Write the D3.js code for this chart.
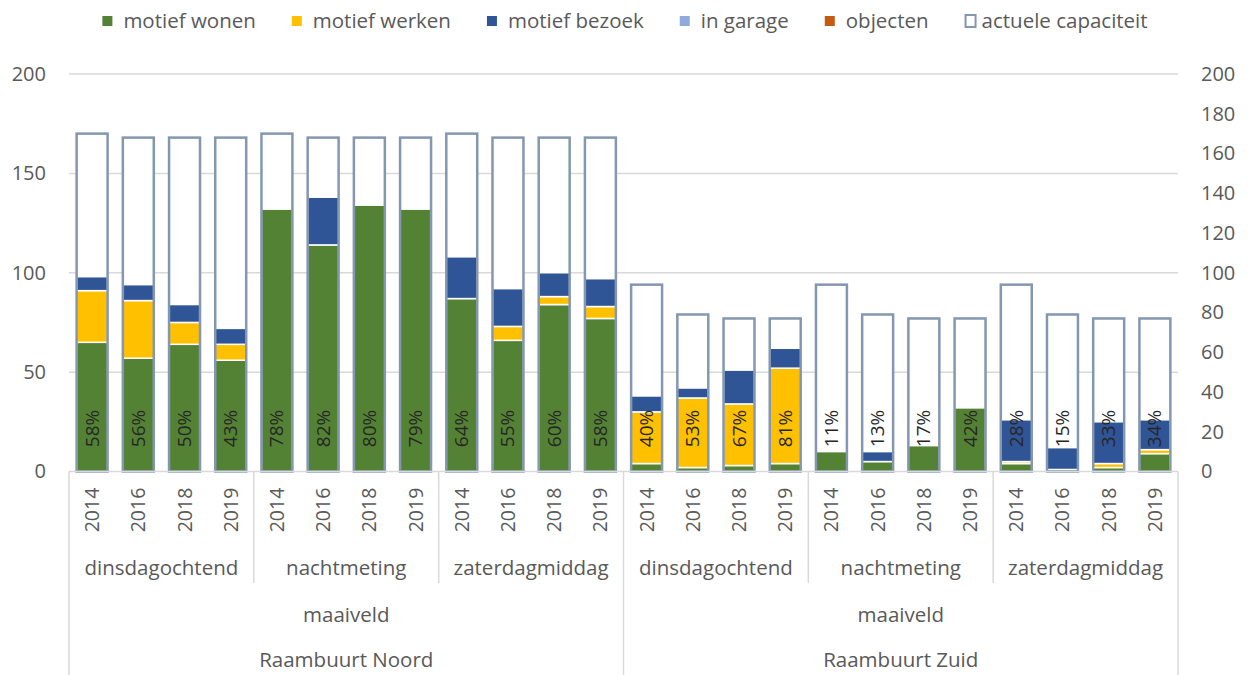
<!DOCTYPE html>
<html>
<head>
<meta charset="utf-8">
<script src="https://cdn.jsdelivr.net/npm/d3@7"></script>
<style>
  body { margin: 0; background: #fff; }
  svg { display: block; font-family: "Open Sans", Lato, sans-serif; }
</style>
</head>
<body>
<script>
// categories (three levels + years)
var areas = ["Raambuurt Noord", "Raambuurt Zuid"];
var niveau = "maaiveld";
var momenten = ["dinsdagochtend", "nachtmeting", "zaterdagmiddag"];
var jaren = ["2014", "2016", "2018", "2019"];

// series, one value per bar (area > moment > year)
var wonen      = [65, 57, 64, 56, 132, 114, 134, 132, 87, 66, 84, 77, 4, 2, 3, 4, 10, 5, 13, 32, 4, 1, 2, 9];
var werken     = [26, 29, 11, 8, 0, 0, 0, 0, 0, 7, 4, 6, 26, 35, 31, 48, 0, 0, 0, 0, 1, 0, 2, 2];
var bezoek     = [7, 8, 9, 8, 0, 24, 0, 0, 21, 19, 12, 14, 8, 5, 17, 10, 0, 5, 0, 0, 21, 11, 21, 15];
var garage     = [0, 0, 0, 0, 0, 0, 0, 0, 0, 0, 0, 0, 0, 0, 0, 0, 0, 0, 0, 0, 0, 0, 0, 0];
var objecten   = [0, 0, 0, 0, 0, 0, 0, 0, 0, 0, 0, 0, 0, 0, 0, 0, 0, 0, 0, 0, 0, 0, 0, 0];
var capaciteit = [170, 168, 168, 168, 170, 168, 168, 168, 170, 168, 168, 168, 94, 79, 77, 77, 94, 79, 77, 77, 94, 79, 77, 77];
var bezetting  = ["58%", "56%", "50%", "43%", "78%", "82%", "80%", "79%", "64%", "55%", "60%", "58%",
                  "40%", "53%", "67%", "81%", "11%", "13%", "17%", "42%", "28%", "15%", "33%", "34%"];

// ticks
var leftTicks = [0, 50, 100, 150, 200];
var rightTicks = [0, 20, 40, 60, 80, 100, 120, 140, 160, 180, 200];

var series = [
  { key: "motief wonen", values: wonen, color: "#548235" },
  { key: "motief werken", values: werken, color: "#ffc000" },
  { key: "motief bezoek", values: bezoek, color: "#2f5597" },
  { key: "in garage", values: garage, color: "#8faadc" },
  { key: "objecten", values: objecten, color: "#c55a11" }
];
var capColor = "#8497b0";
var textColor = "#595959";
var gridColor = "#d9d9d9";
var fs = "20.5px";

var W = 1252, H = 675;
var plot = { left: 69, right: 1178, top: 74, bottom: 471.5 };

// build rows
var rows = [];
areas.forEach(function (a) {
  momenten.forEach(function (m) {
    jaren.forEach(function (j) {
      var i = rows.length;
      var r = { i: i, area: a, moment: m, jaar: j, cap: capaciteit[i], label: bezetting[i] };
      series.forEach(function (s) { r[s.key] = s.values[i]; });
      rows.push(r);
    });
  });
});

var svg = d3.select("body").append("svg")
  .attr("width", W)
  .attr("height", H);

var x = d3.scaleBand()
  .domain(rows.map(function (d) { return d.i; }))
  .range([plot.left, plot.right])
  .paddingInner(0.33)
  .paddingOuter(0.165);

var y = d3.scaleLinear().domain([0, 200]).range([plot.bottom, plot.top]);

// gridlines
svg.append("g")
  .selectAll("line")
  .data(leftTicks.slice(1))
  .enter().append("line")
  .attr("x1", plot.left).attr("x2", plot.right)
  .attr("y1", function (d) { return y(d); })
  .attr("y2", function (d) { return y(d); })
  .attr("stroke", gridColor)
  .attr("stroke-width", 1.5);

// left axis
var yl = svg.append("g")
  .attr("transform", "translate(" + (plot.left - 23) + ",0)")
  .call(d3.axisLeft(y).tickValues(leftTicks).tickSize(0).tickPadding(0));
// right axis
var yr = svg.append("g")
  .attr("transform", "translate(" + (plot.right + 23) + ",0)")
  .call(d3.axisRight(y).tickValues(rightTicks).tickSize(0).tickPadding(0));
[yl, yr].forEach(function (g) {
  g.select(".domain").remove();
  g.selectAll("text")
    .attr("fill", textColor)
    .style("font-size", "20px")
    .style("font-family", "'Open Sans', sans-serif");
});

// capacity bars (white body)
svg.append("g")
  .selectAll("rect")
  .data(rows)
  .enter().append("rect")
  .attr("x", function (d) { return x(d.i); })
  .attr("width", x.bandwidth())
  .attr("y", function (d) { return y(d.cap); })
  .attr("height", function (d) { return y(0) - y(d.cap); })
  .attr("fill", "#fff");

// stacked segments
var stack = d3.stack().keys(series.map(function (s) { return s.key; }));
var layers = stack(rows);

svg.append("g")
  .selectAll("g")
  .data(layers)
  .enter().append("g")
  .attr("fill", function (d, k) { return series[k].color; })
  .selectAll("rect")
  .data(function (d) { return d.filter(function (p) { return p[1] - p[0] > 0; }); })
  .enter().append("rect")
  .attr("x", function (d) { return x(d.data.i); })
  .attr("width", x.bandwidth())
  .attr("y", function (d) { return y(d[1]); })
  .attr("height", function (d) { return y(d[0]) - y(d[1]); })
  .attr("stroke", "#fff")
  .attr("stroke-width", 1.5);

// capacity outline on top
svg.append("g")
  .selectAll("rect")
  .data(rows)
  .enter().append("rect")
  .attr("x", function (d) { return x(d.i); })
  .attr("width", x.bandwidth())
  .attr("y", function (d) { return y(d.cap); })
  .attr("height", function (d) { return y(0) - y(d.cap); })
  .attr("fill", "none")
  .attr("stroke", capColor)
  .attr("stroke-width", 2.5);

// percentage labels
svg.append("g")
  .selectAll("text")
  .data(rows)
  .enter().append("text")
  .attr("transform", function (d) {
    return "translate(" + (x(d.i) + x.bandwidth() / 2 + 6.5) + "," + (y(0) - 43) + ") rotate(-90)";
  })
  .attr("text-anchor", "middle")
  .attr("fill", "#262626")
  .style("font-size", "19px")
  .text(function (d) { return d.label; });

// category axis
var step = x.step();
svg.append("line")
  .attr("x1", plot.left).attr("x2", plot.right)
  .attr("y1", y(0)).attr("y2", y(0))
  .attr("stroke", gridColor).attr("stroke-width", 1.5);

// years
svg.append("g")
  .selectAll("text")
  .data(rows)
  .enter().append("text")
  .attr("transform", function (d) {
    return "translate(" + (x(d.i) + x.bandwidth() / 2 + 7) + ",510) rotate(-90)";
  })
  .attr("text-anchor", "middle")
  .attr("fill", textColor)
  .style("font-size", "19.5px")
  .text(function (d) { return d.jaar; });

// moment groups
var groups = d3.groups(rows, function (d) { return d.area + "|" + d.moment; });
var gx0 = function (g) { return x(g[1][0].i) - step * 0.165; };
var gx1 = function (g) { return x(g[1][g[1].length - 1].i) + x.bandwidth() + step * 0.165; };

svg.append("g")
  .selectAll("text")
  .data(groups)
  .enter().append("text")
  .attr("x", function (g) { return (gx0(g) + gx1(g)) / 2; })
  .attr("y", 575)
  .attr("text-anchor", "middle")
  .attr("fill", textColor)
  .style("font-size", fs)
  .text(function (g) { return g[1][0].moment; });

// separators between moment groups (short)
svg.append("g")
  .selectAll("line")
  .data(groups.filter(function (g, k) { return k % momenten.length != 0; }))
  .enter().append("line")
  .attr("x1", gx0).attr("x2", gx0)
  .attr("y1", y(0)).attr("y2", 583)
  .attr("stroke", gridColor).attr("stroke-width", 1.5);

// area groups
var areaGroups = d3.groups(rows, function (d) { return d.area; });
var ax0 = function (g) { return x(g[1][0].i) - step * 0.165; };
var ax1 = function (g) { return x(g[1][g[1].length - 1].i) + x.bandwidth() + step * 0.165; };

var ag = svg.append("g").selectAll("g")
  .data(areaGroups)
  .enter().append("g");

ag.append("text")
  .attr("x", function (g) { return (ax0(g) + ax1(g)) / 2; })
  .attr("y", 622)
  .attr("text-anchor", "middle")
  .attr("fill", textColor)
  .style("font-size", fs)
  .text(niveau);

ag.append("text")
  .attr("x", function (g) { return (ax0(g) + ax1(g)) / 2; })
  .attr("y", 667)
  .attr("text-anchor", "middle")
  .attr("fill", textColor)
  .style("font-size", fs)
  .text(function (g) { return g[0]; });

// full-height separators
var edges = [plot.left].concat(areaGroups.map(ax1));
svg.append("g")
  .selectAll("line")
  .data(edges)
  .enter().append("line")
  .attr("x1", function (d) { return d; }).attr("x2", function (d) { return d; })
  .attr("y1", y(0)).attr("y2", H)
  .attr("stroke", gridColor).attr("stroke-width", 1.5);

// legend
var legendItems = series.map(function (s) { return { key: s.key, color: s.color, hollow: false }; })
  .concat([{ key: "actuele capaciteit", color: capColor, hollow: true }]);

var legend = svg.append("g");
var lx = 0;
legendItems.forEach(function (it) {
  var g = legend.append("g").attr("transform", "translate(" + lx + ",0)");
  if (it.hollow) {
    g.append("rect").attr("x", 1).attr("y", 15).attr("width", 10).attr("height", 12)
      .attr("fill", "#fff").attr("stroke", it.color).attr("stroke-width", 2);
  } else {
    g.append("rect").attr("x", 0).attr("y", 16).attr("width", 10).attr("height", 10)
      .attr("fill", it.color);
  }
  var t = g.append("text")
    .attr("x", it.hollow ? 17 : 21)
    .attr("y", 28)
    .attr("fill", textColor)
    .style("font-size", fs)
    .text(it.key);
  lx += (it.hollow ? 17 : 21) + t.node().getComputedTextLength() + 36;
});
var lw = lx - 36;
legend.attr("transform", "translate(" + (625 - lw / 2) + ",0)");
</script>
</body>
</html>
